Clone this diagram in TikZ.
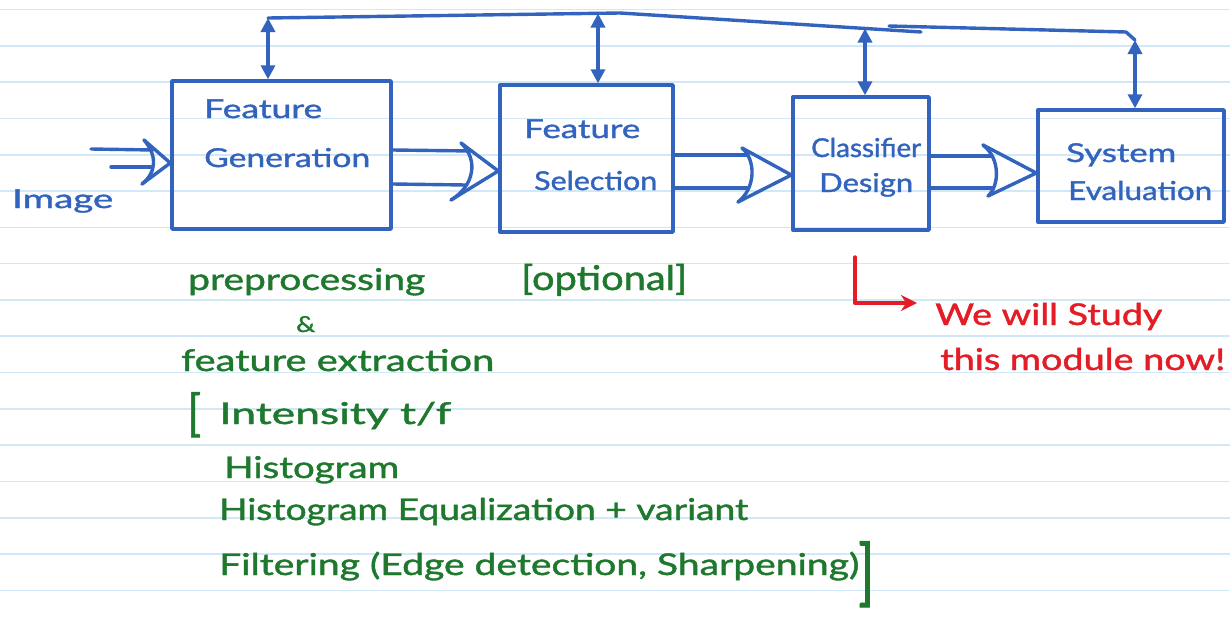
\documentclass[tikz,border=0pt]{standalone}
\usepackage{fontspec}
\setmainfont{Lato}
\newfontfamily\penfont{Lato}[FakeBold=1.2]
\usepackage{graphicx}
\usetikzlibrary{arrows.meta,calc}
\definecolor{penblue}{RGB}{50,100,190}
\definecolor{pengreen}{RGB}{30,120,45}
\definecolor{penred}{RGB}{228,28,38}
\definecolor{ruleblue}{RGB}{208,232,248}
\newcommand\hw[2]{\resizebox{#1pt}{\height}{#2}}
\tikzset{
  pen/.style={draw=penblue,line width=3.4pt,line cap=round,line join=round},
  redpen/.style={draw=penred,line width=3.4pt,line cap=round,line join=round},
  blockbox/.style={pen,inner sep=0pt},
  dblarrow/.style={pen,{Triangle[width=14pt,length=14pt]}-{Triangle[width=14pt,length=14pt]}},
  btext/.style={text=penblue,font=\penfont\fontsize{26}{30}\selectfont,anchor=base west,inner sep=0pt},
  gtext/.style={text=pengreen,font=\penfont\fontsize{30}{34}\selectfont,anchor=base west,inner sep=0pt},
  rtext/.style={text=penred,font=\penfont\fontsize{30}{34}\selectfont,anchor=base west,inner sep=0pt},
  ruled/.style={draw=ruleblue,line width=1.6pt}
}
\begin{document}
\begin{tikzpicture}[x=1pt,y=-1pt]
\fill[white] (0,0) rectangle (1230,616);
\useasboundingbox (0,0) rectangle (1230,616);
\foreach \i in {0,...,16} \draw[ruled] (0,9.5+36.3*\i) -- (1230,9.5+36.3*\i);

% blocks
\node[blockbox,minimum width=219pt,minimum height=148pt] (fg) at (281.5,155) {};
\node[blockbox,minimum width=173pt,minimum height=147pt] (fs) at (586.5,158.5) {};
\node[blockbox,minimum width=136pt,minimum height=133pt] (cd) at (861,163.5) {};
\node[blockbox,minimum width=186pt,minimum height=112pt] (se) at (1131,166) {};

% block texts
\node[btext] (fg1) at (204,118) {\hw{118}{Feature}};
\node[btext] (fg2) at (204,167) {\hw{166}{Generation}};
\node[btext] (fs1) at (524,138) {\hw{116}{Feature}};
\node[btext] (fs2) at (534,190) {\hw{123}{Selection}};
\node[btext] (cd1) at (811,157) {\hw{110}{Classifier}};
\node[btext] (cd2) at (819,192) {\hw{94}{Design}};
\node[btext] (se1) at (1066,162) {\hw{110}{System}};
\node[btext] (se2) at (1068,200) {\hw{144}{Evaluation}};
\node[btext] (img) at (12,208) {\hw{101}{Image}};

% feedback bus
\coordinate (b1) at (268,18);
\coordinate (b2) at (620,13);
\coordinate (b3) at (921,32);
\coordinate (b4) at (889,26);
\coordinate (b5) at (1126,32);
\coordinate (b6) at (1135,40);
\draw[pen] (b1) -- (b2) -- (b3);
\draw[pen] (b4) -- (b5) -- (b6);
\coordinate (t1) at (268,18);
\coordinate (t2) at (598,13.5);
\coordinate (t3) at (865,28.5);
\coordinate (t4) at (1135,40);
\draw[dblarrow] (t1) -- (t1 |- fg.north);
\draw[dblarrow] (t2) -- (t2 |- fs.north);
\draw[dblarrow] (t3) -- (t3 |- cd.north);
\draw[dblarrow] (t4) -- (t4 |- se.north);

% input hollow arrow
\coordinate (in1) at (91,149);
\coordinate (in2) at (111,167);
\coordinate (tip0) at (fg.west |- 0,163);
\draw[pen] (in1) -- (153,150);
\draw[pen] (in2) -- (151,167);
\draw[pen] (144,140) -- (tip0) -- (142,184);
\draw[pen] (144,140) .. controls (157,155) and (157,172) .. (142,184);

% FG -> FS
\coordinate (tip1) at (fs.west |- 0,171);
\draw[pen] (fg.east |- 0,150) -- (472,151);
\draw[pen] (fg.east |- 0,184) -- (466,185);
\draw[pen] (461,143) -- (tip1) -- (451,200);
\draw[pen] (461,143) .. controls (479,160) and (474,186) .. (451,200);

% FS -> CD
\coordinate (tip2) at (cd.west |- 0,175);
\draw[pen] (fs.east |- 0,155) -- (748,155);
\draw[pen] (fs.east |- 0,188) -- (748,188);
\draw[pen] (742,148) -- (tip2) -- (738,202);
\draw[pen] (742,148) .. controls (756,160) and (756,188) .. (738,202);

% CD -> SE
\coordinate (tip3) at (se.west |- 0,173);
\draw[pen] (cd.east |- 0,156) -- (992,156);
\draw[pen] (cd.east |- 0,188) -- (992,188);
\draw[pen] (983,145) -- (tip3) -- (988,196);
\draw[pen] (983,145) .. controls (1000,158) and (1000,185) .. (988,196);

% green notes
\node[gtext] (pre) at (188,290) {\hw{237}{preprocessing}};
\node[gtext,font=\penfont\fontsize{22}{26}\selectfont] (amp) at (296,332) {\hw{19}{\&}};
\node[gtext] (fex) at (181,371) {\hw{313}{feature extraction}};
\node[gtext,anchor=north west] (lbr) at (187,392) {\resizebox*{14pt}{45pt}{[}};
\node[gtext] (int) at (219,424) {\hw{232}{Intensity t/f}};
\node[gtext] (his) at (224,478) {\hw{175}{Histogram}};
\node[gtext] (heq) at (219,520) {\hw{529}{Histogram Equalization + variant}};
\node[gtext] (fil) at (219,575) {\hw{640}{Filtering (Edge detection, Sharpening)}};
\node[gtext,anchor=north west] (rbr) at (858,541) {\resizebox*{16pt}{66pt}{]}};
\node[gtext,font=\penfont\fontsize{34}{38}\selectfont] (opt) at (521,290) {\hw{166}{[optional]}};

% red note
\coordinate (r1) at (855,257);
\coordinate (r2) at (917,303);
\draw[redpen,-{Stealth[length=16pt,width=16pt]}] (r1) |- (r2);
\node[rtext] (wws) at (935,325) {\hw{227}{We will Study}};
\node[rtext] (tmn) at (940,370) {\hw{285}{this module now!}};
\end{tikzpicture}
\end{document}
